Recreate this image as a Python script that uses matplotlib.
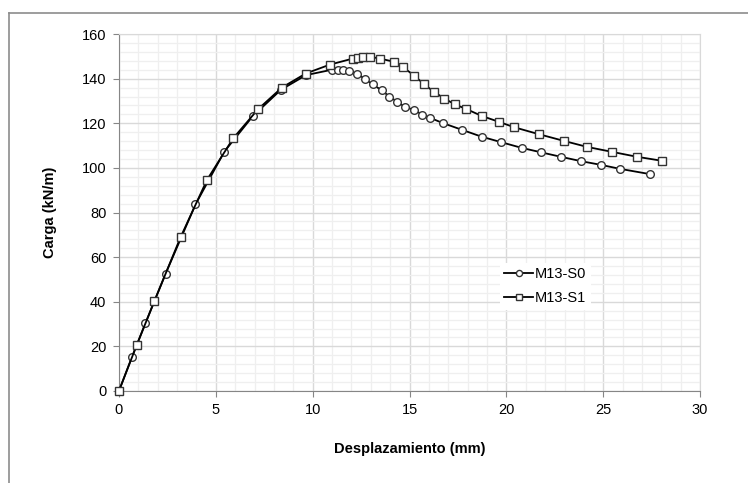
import matplotlib
matplotlib.use("Agg")
import matplotlib.pyplot as plt
from matplotlib.lines import Line2D
from matplotlib.ticker import MultipleLocator

plt.rcParams['font.family'] = ['Liberation Sans', 'DejaVu Sans']

# M13-S0 (circles)
s0_x = [0, 0.68, 1.37, 2.41, 3.95, 5.44, 6.92, 8.36, 9.66, 10.99, 11.3, 11.59,
        11.88, 12.29, 12.68, 13.09, 13.57, 13.95, 14.36, 14.75, 15.25, 15.66,
        16.07, 16.72, 17.73, 18.72, 19.7, 20.78, 21.78, 22.8, 23.86, 24.86,
        25.85, 27.42]
s0_y = [0, 15.4, 30.4, 52.6, 83.6, 107.3, 123.3, 135, 141.6, 144, 144.1, 143.8,
        143.4, 142.2, 140, 137.4, 134.8, 132, 129.7, 127.4, 125.9, 123.9,
        122.4, 120.1, 117, 114, 111.6, 109, 107, 105, 103, 101.4, 99.6, 97.2]

# M13-S1 (squares)
s1_x = [0, 0.91, 1.83, 3.18, 4.55, 5.9, 7.18, 8.41, 9.64, 10.89, 12.07, 12.36,
        12.6, 12.97, 13.47, 14.19, 14.65, 15.23, 15.73, 16.24, 16.8, 17.33,
        17.93, 18.72, 19.6, 20.41, 21.68, 22.97, 24.17, 25.45, 26.73, 28.02]
s1_y = [0, 20.4, 40.3, 68.9, 94.7, 113.3, 126.3, 136, 142.3, 146.3, 149, 149.4,
        149.7, 149.8, 149, 147.6, 145.3, 141.4, 137.7, 134.2, 131.1, 128.5,
        126.4, 123.3, 120.7, 118.2, 115.1, 112.1, 109.4, 107.2, 105, 103.2]

fig = plt.figure(figsize=(7.48, 4.83), dpi=100)
ax = fig.add_axes([0.159, 0.1905, 0.777, 0.739])

ax.plot(s0_x, s0_y, color='black', lw=1.3, marker='o', ms=5.5,
        mfc='white', mec='#333333', mew=1.0, label='M13-S0', zorder=3, clip_on=False)
ax.plot(s1_x, s1_y, color='black', lw=1.3, marker='s', ms=6,
        mfc='white', mec='#333333', mew=1.0, label='M13-S1', zorder=3, clip_on=False)

ax.set_xlim(0, 30)
ax.set_ylim(0, 160)
ax.xaxis.set_major_locator(MultipleLocator(5))
ax.xaxis.set_minor_locator(MultipleLocator(1))
ax.yaxis.set_major_locator(MultipleLocator(20))
ax.yaxis.set_minor_locator(MultipleLocator(4))
ax.grid(which='major', color='#d9d9d9', lw=1.0)
ax.grid(which='minor', color='#efefef', lw=0.9)
ax.set_axisbelow(True)

for side in ['top', 'right']:
    ax.spines[side].set_color('#d9d9d9')
for side in ['left', 'bottom']:
    ax.spines[side].set_color('#868686')
ax.tick_params(which='major', direction='out', length=4, color='#868686',
               labelsize=10.5, pad=5)
ax.tick_params(which='minor', length=0)

ax.set_xlabel('Desplazamiento (mm)', fontsize=10.5, fontweight='bold', labelpad=18)
ax.set_ylabel('Carga (kN/m)', fontsize=10.5, fontweight='bold', labelpad=18)

leg = ax.legend(loc='upper left', bbox_to_anchor=(0.643, 0.38), frameon=True,
                fontsize=10.5, handlelength=2.0, markerscale=0.8,
                borderpad=0.3, labelspacing=0.7, handletextpad=0.1)
leg.get_frame().set_edgecolor('none')
leg.get_frame().set_facecolor('white')
leg.get_frame().set_alpha(1)

# chart area border (cut on right and bottom)
fig.add_artist(Line2D([9 / 748, 9 / 748], [0, 1 - 13 / 483], color='#8c8c8c', lw=1.2))
fig.add_artist(Line2D([9 / 748, 1], [1 - 13 / 483, 1 - 13 / 483], color='#8c8c8c', lw=1.2))

fig.savefig('out.png', dpi=100)
